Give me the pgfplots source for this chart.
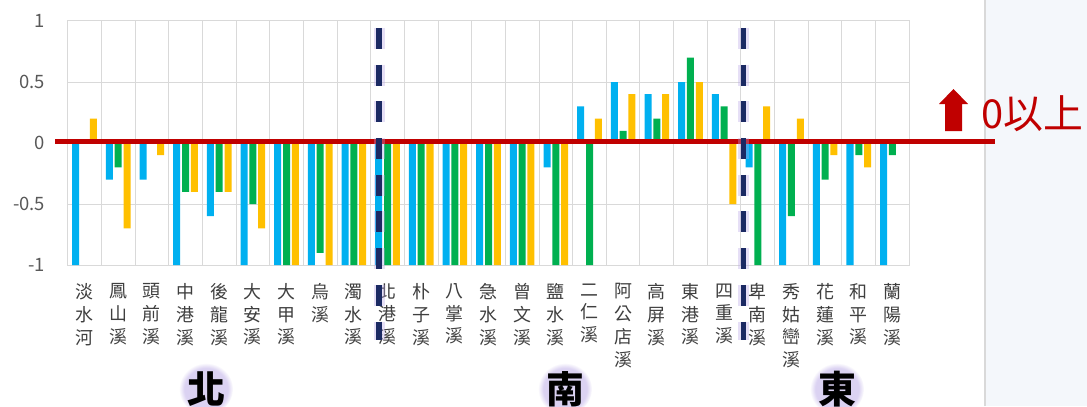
\documentclass[border=0pt]{standalone}
\usepackage{fontspec}
\setmainfont{Noto Sans CJK TC}
\newfontfamily\cjk{Noto Sans CJK TC}
\usepackage{pgfplots}
\usepackage{pgfplotstable}
\pgfplotsset{compat=1.18}
\usetikzlibrary{fadings}

\definecolor{sblue}{HTML}{00B0F0}
\definecolor{sgreen}{HTML}{00B050}
\definecolor{syellow}{HTML}{FFC000}
\definecolor{zeroline}{HTML}{C00000}
\definecolor{divider}{HTML}{1B2A63}
\definecolor{glow}{HTML}{B8A6E6}
\definecolor{gridgray}{HTML}{D9D9D9}
\definecolor{labelgray}{HTML}{3F3F3F}
\definecolor{numgray}{HTML}{595959}
\definecolor{panel}{HTML}{F4F7FB}

% Index, then one score per source (blue, green, yellow)
\pgfplotstableread{
i  b     g     y
0  -1    0     0.2
1  -0.3  -0.2  -0.7
2  -0.3  0     -0.1
3  -1    -0.4  -0.4
4  -0.6  -0.4  -0.4
5  -1    -0.5  -0.7
6  -1    -1    -1
7  -1    -0.9  -1
8  -1    -1    -1
9  -1    -1    -1
10 -1    -1    -1
11 -1    -1    -1
12 -1    -1    -1
13 -1    -1    -1
14 -0.2  -1    -1
15 0.3   -1    0.2
16 0.5   0.1   0.4
17 0.4   0.2   0.4
18 0.5   0.7   0.5
19 0.4   0.3   -0.5
20 -0.2  -1    0.3
21 -1    -0.6  0.2
22 -1    -0.3  -0.1
23 -1    -0.1  -0.2
24 -1    -0.1  0
}\rivers

% region name on a soft lavender halo
\newcommand{\region}[3]{%
  \fill[glow, opacity=0.5, path fading=circle with fuzzy edge 20 percent]
    (#1,#2) ellipse (27bp and 26bp);
  \node[text=black, font=\cjk\bfseries\fontsize{38}{38}\selectfont] at (#1,#2) {#3};%
}

\begin{document}
\begin{tikzpicture}[x=1bp,y=1bp]
\path[use as bounding box] (0,0) rectangle (1087,406);
\fill[white] (0,0) rectangle (985,406);
\fill[panel] (985,0) rectangle (1087,406);
\draw[gridgray, line width=1.5bp] (985,0) -- (985,406);

\begin{axis}[
  at={(67.7bp,141bp)}, anchor=south west,
  scale only axis, width=841.6bp, height=244bp,
  ybar, bar width=0.208,
  xmin=-0.5, xmax=24.5, ymin=-1, ymax=1,
  xtick={0,...,24},
  xticklabels={{淡\\水\\河},{鳳\\山\\溪},{頭\\前\\溪},{中\\港\\溪},{後\\龍\\溪},
    {大\\安\\溪},{大\\甲\\溪},{烏\\溪},{濁\\水\\溪},{北\\港\\溪},{朴\\子\\溪},
    {八\\掌\\溪},{急\\水\\溪},{曾\\文\\溪},{鹽\\水\\溪},{二\\仁\\溪},
    {阿\\公\\店\\溪},{高\\屏\\溪},{東\\港\\溪},{四\\重\\溪},{卑\\南\\溪},
    {秀\\姑\\巒\\溪},{花\\蓮\\溪},{和\\平\\溪},{蘭\\陽\\溪}},
  minor xtick={0.5,1.5,...,23.5},
  xminorgrids, ymajorgrids,
  ytick={-1,-0.5,0,0.5,1},
  yticklabels={-1,-0.5,0,0.5,1},
  major tick length=0, minor tick length=0,
  axis line style={draw=gridgray, line width=1bp},
  major grid style={draw=gridgray, line width=1bp},
  minor grid style={draw=gridgray, line width=1bp},
  xticklabel style={align=center, font=\cjk\fontsize{18}{22.8}\selectfont,
    text=labelgray, anchor=north, yshift=-15bp},
  yticklabel style={font=\fontsize{18.5}{20}\selectfont, text=numgray,
    anchor=east, xshift=-19bp},
  clip=false,
]
\addplot[draw=none, fill=sblue, bar shift=-0.262] table[x=i, y=b] {\rivers};
\addplot[draw=none, fill=sgreen, bar shift=0] table[x=i, y=g] {\rivers};
\addplot[draw=none, fill=syellow, bar shift=0.262] table[x=i, y=y] {\rivers};

% zero reference line, running out past the plot area
\draw[zeroline, line width=5bp] (axis cs:-0.877,0.015) -- (axis cs:27.05,0.015);

% north / south and south / east dividers
\draw[glow, opacity=0.35, line width=11bp, dash pattern=on 21bp off 15.7bp]
  (axis cs:8.75,0.943) -- (axis cs:8.75,-1.615);
\draw[divider, line width=5.5bp, dash pattern=on 21bp off 15.7bp]
  (axis cs:8.75,0.943) -- (axis cs:8.75,-1.615);
\draw[glow, opacity=0.35, line width=11bp, dash pattern=on 21bp off 15.7bp]
  (axis cs:19.58,0.943) -- (axis cs:19.58,-1.615);
\draw[divider, line width=5.5bp, dash pattern=on 21bp off 15.7bp]
  (axis cs:19.58,0.943) -- (axis cs:19.58,-1.615);
\end{axis}

% "above zero" marker
\fill[zeroline] (953.5,317) -- (968,302) -- (962,302) -- (962,275)
  -- (945,275) -- (945,302) -- (939,302) -- cycle;
\node[anchor=west, inner sep=0, text=zeroline,
  font=\cjk\fontsize{40}{40}\selectfont] at (981,292) {0以上};

% region names
\region{206}{17}{北}
\region{565}{17}{南}
\region{837}{17}{東}
\end{tikzpicture}
\end{document}
